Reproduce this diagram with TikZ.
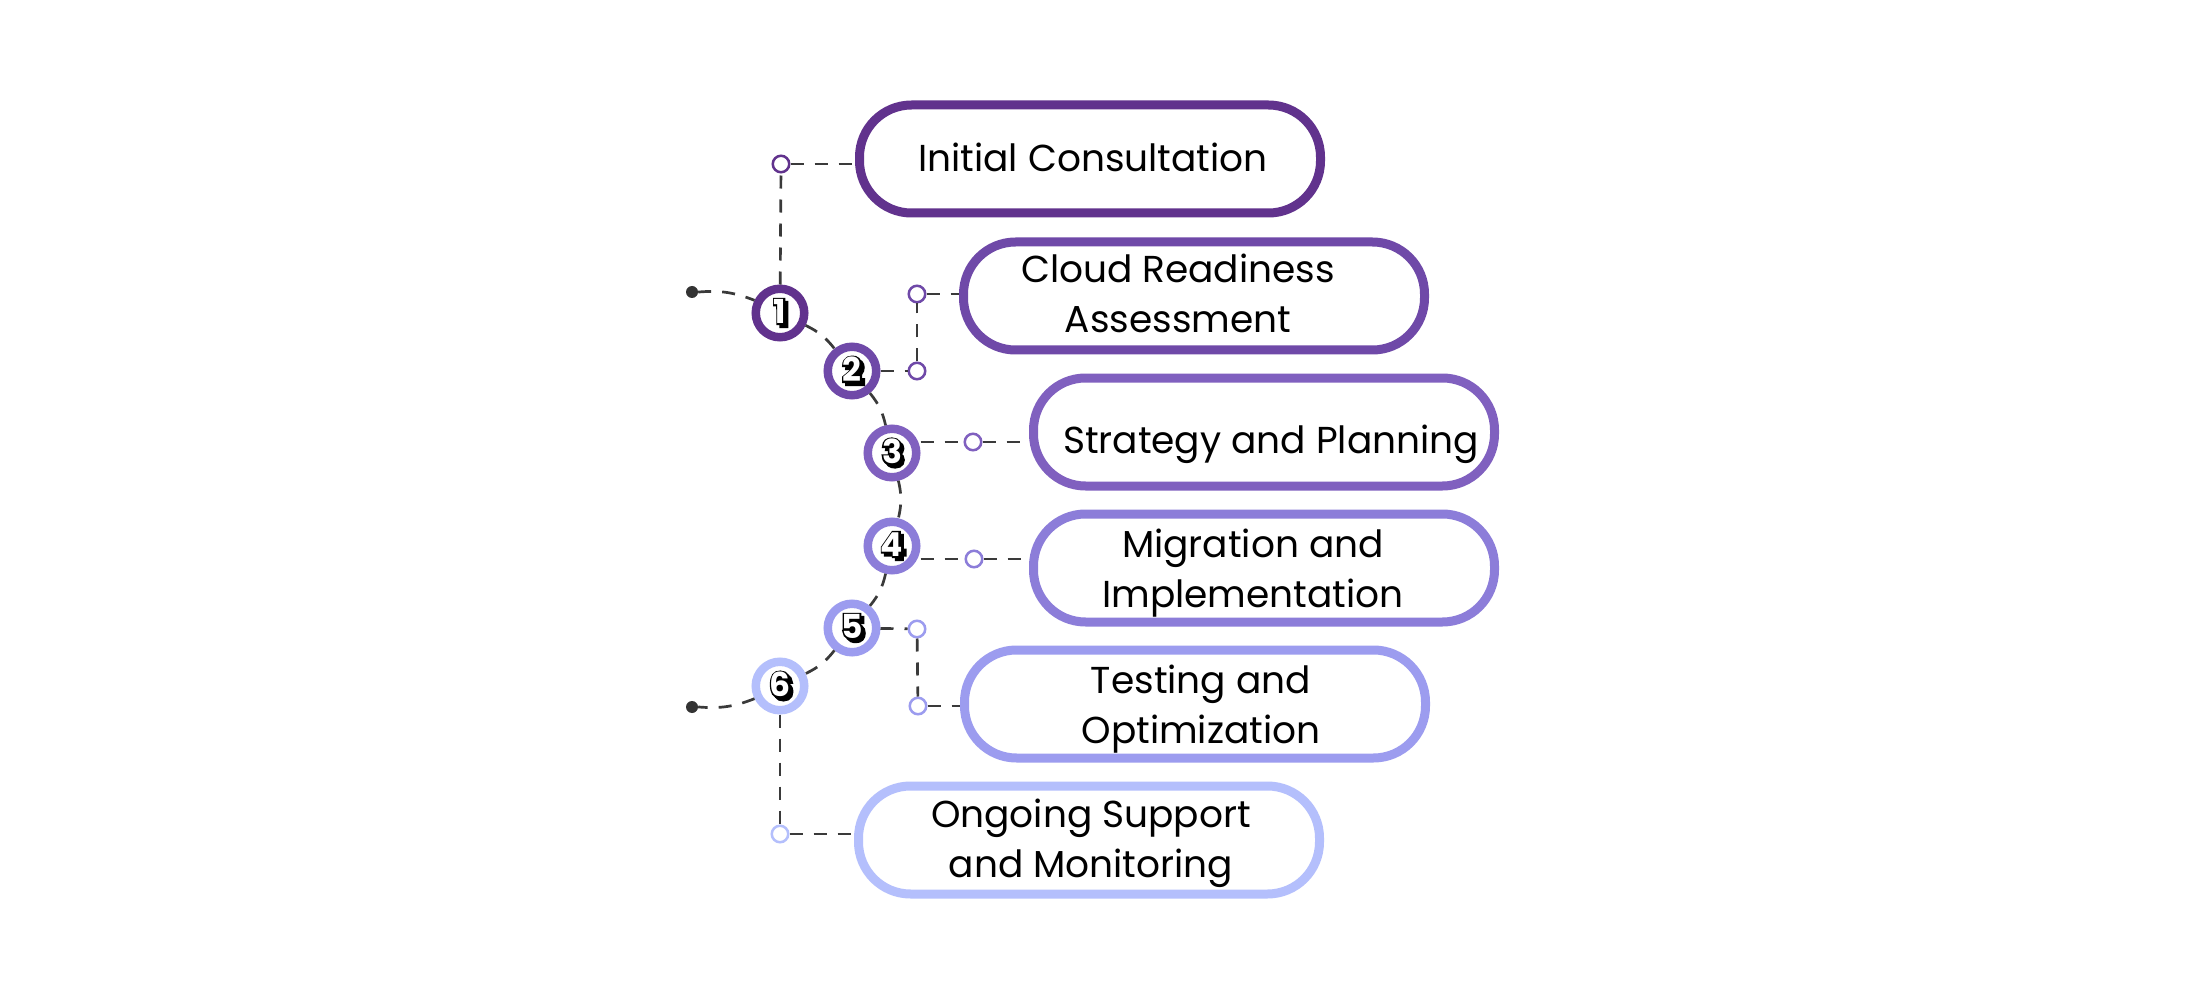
\documentclass[tikz,border=0pt]{standalone}
\usepackage{fontspec}
\setmainfont{Poppins}
\newfontfamily\digitfat{Poppins}[BoldFeatures={FakeBold=10}]
\definecolor{ca}{HTML}{61328D}
\definecolor{cb}{HTML}{6F49A8}
\definecolor{cc}{HTML}{8060BF}
\definecolor{cd}{HTML}{8C7DD9}
\definecolor{ce}{HTML}{9C9CEF}
\definecolor{cf}{HTML}{B4BFFC}
\definecolor{linegray}{HTML}{3A3A3A}
\definecolor{dotgray}{HTML}{333333}
\newcommand\dcp[3]{\rlap{\kern#1\raise#2\hbox{#3}}}
\newcommand\stepdigit[1]{{\fontsize{33}{33}\selectfont
 \color{black}%
 \dcp{3pt}{-3pt}{\digitfat\bfseries #1}\dcp{0pt}{0pt}{\digitfat\bfseries #1}%
 \color{white}\bfseries #1}}
\tikzset{
 pill/.style={rectangle, draw=#1, line width=9pt, rounded corners=52pt, minimum width=461pt, minimum height=108pt, inner sep=0pt, fill=white},
 stepcirc/.style={circle, draw=#1, line width=8.5pt, fill=white, minimum size=48.5pt, inner sep=0pt},
 smallring/.style={circle, draw=#1, line width=2.5pt, fill=white, minimum size=16.5pt, inner sep=0pt},
 enddot/.style={circle, fill=dotgray, minimum size=12pt, inner sep=0pt},
 dline/.style={draw=linegray, line width=2.7pt, dash pattern=on 13pt off 11pt},
 steptext/.style={font=\fontsize{37.5}{50}\selectfont, align=center, anchor=base, inner sep=0pt, text=black},
}
\begin{document}
\begin{tikzpicture}[x=1pt,y=-1pt]
\fill[white] (0,0) rectangle (2188,1000);
\useasboundingbox (0,0) rectangle (2188,1000);
% boxes
\node[pill=ca] (b1) at (1090,159) {};
\node[pill=cb] (b2) at (1194,296) {};
\node[pill=cc] (b3) at (1264,432) {};
\node[pill=cd] (b4) at (1264,568) {};
\node[pill=ce] (b5) at (1195,704) {};
\node[pill=cf] (b6) at (1089,840) {};
\node[steptext] (t1) at (1093,172) {Initial Consultation};
\node[steptext] (t2) at (1178,333) {Cloud Readiness\\Assessment};
\node[steptext] (t3) at (1271,453) {Strategy and Planning};
\node[steptext] (t4) at (1253,607) {Migration and\\Implementation};
\node[steptext] (t5) at (1201,743) {Testing and\\Optimization};
\node[steptext] (t6) at (1091,877) {Ongoing Support\\and Monitoring};
% step circles
\node[stepcirc=ca] (c1) at (780,313) {\stepdigit{1}};
\node[stepcirc=cb] (c2) at (852,371) {\stepdigit{2}};
\node[stepcirc=cc] (c3) at (892,453) {\stepdigit{3}};
\node[stepcirc=cd] (c4) at (892,546) {\stepdigit{4}};
\node[stepcirc=ce] (c5) at (852,628) {\stepdigit{5}};
\node[stepcirc=cf] (c6) at (780,686) {\stepdigit{6}};
% end dots
\node[enddot] (d1) at (692,292) {};
\node[enddot] (d2) at (692,707) {};
% small rings
\node[smallring=ca] (s1) at (781,164) {};
\node[smallring=cb] (s2a) at (917,294) {};
\node[smallring=cb] (s2b) at (917,371) {};
\node[smallring=cc] (s3) at (973,442) {};
\node[smallring=cd] (s4) at (974,559) {};
\node[smallring=ce] (s5a) at (917,629) {};
\node[smallring=ce] (s5b) at (918,706) {};
\node[smallring=cf] (s6) at (780,834) {};
% arc chain
\draw[dline] (d1) to[bend left=13] (c1);
\draw[dline] (c1) to[bend left=13] (c2);
\draw[dline] (c2) to[bend left=13] (c3);
\draw[dline] (c3) to[bend left=13] (c4);
\draw[dline] (c4) to[bend left=13] (c5);
\draw[dline] (c5) to[bend left=13] (c6);
\draw[dline] (c6) to[bend left=13] (d2);
% branches
\draw[dline] (c1) -- (s1);
\draw[dline] (s1) -- (s1 -| b1.west);
\draw[dline] (c2) -- (s2b);
\draw[dline] (s2b) -- (s2a);
\draw[dline] (s2a) -- (s2a -| b2.west);
\draw[dline] (s3 -| c3.east) -- (s3);
\draw[dline] (s3) -- (s3 -| b3.west);
\draw[dline] (s4 -| c4.east) -- (s4);
\draw[dline] (s4) -- (s4 -| b4.west);
\draw[dline] (c5) -- (s5a);
\draw[dline] (s5a) -- (s5b);
\draw[dline] (s5b) -- (s5b -| b5.west);
\draw[dline] (c6) -- (s6);
\draw[dline] (s6) -- (s6 -| b6.west);
\end{tikzpicture}
\end{document}
